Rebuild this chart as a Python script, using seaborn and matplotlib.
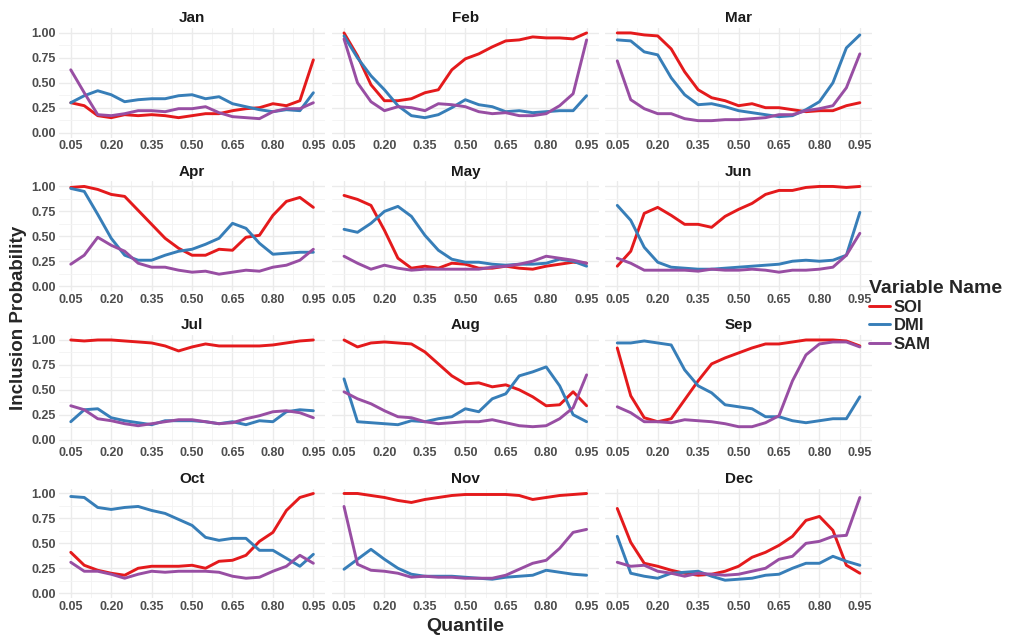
import numpy as np
import pandas as pd

import matplotlib
matplotlib.use("Agg")
import matplotlib.pyplot as plt
from matplotlib.lines import Line2D
import seaborn as sns

# ==================================================
# DATA
# ==================================================

QUANTILES = [round(0.05 * i, 2) for i in range(1, 20)]

MONTHS = ["Jan", "Feb", "Mar", "Apr", "May", "Jun",
          "Jul", "Aug", "Sep", "Oct", "Nov", "Dec"]

VARIABLES = ["SOI", "DMI", "SAM"]

SOI = {
    "Jan": [0.30, 0.27, 0.17, 0.15, 0.18, 0.17, 0.18, 0.17, 0.15, 0.17, 0.19, 0.19, 0.22, 0.24, 0.25, 0.29, 0.27, 0.32, 0.73],
    "Feb": [1.00, 0.77, 0.48, 0.32, 0.32, 0.34, 0.40, 0.43, 0.63, 0.74, 0.79, 0.86, 0.92, 0.93, 0.96, 0.95, 0.95, 0.94, 1.00],
    "Mar": [1.00, 1.00, 0.98, 0.97, 0.84, 0.61, 0.43, 0.35, 0.32, 0.27, 0.29, 0.25, 0.25, 0.23, 0.21, 0.22, 0.22, 0.27, 0.30],
    "Apr": [0.99, 1.00, 0.97, 0.92, 0.90, 0.76, 0.62, 0.48, 0.38, 0.31, 0.31, 0.37, 0.36, 0.49, 0.51, 0.71, 0.85, 0.89, 0.79],
    "May": [0.91, 0.87, 0.81, 0.56, 0.28, 0.18, 0.20, 0.18, 0.23, 0.22, 0.18, 0.18, 0.20, 0.18, 0.17, 0.20, 0.22, 0.24, 0.23],
    "Jun": [0.20, 0.35, 0.73, 0.79, 0.71, 0.62, 0.62, 0.59, 0.70, 0.77, 0.83, 0.92, 0.96, 0.96, 0.99, 1.00, 1.00, 0.99, 1.00],
    "Jul": [1.00, 0.99, 1.00, 1.00, 0.99, 0.98, 0.97, 0.94, 0.89, 0.93, 0.96, 0.94, 0.94, 0.94, 0.94, 0.95, 0.97, 0.99, 1.00],
    "Aug": [1.00, 0.93, 0.97, 0.98, 0.97, 0.96, 0.88, 0.76, 0.64, 0.56, 0.57, 0.53, 0.55, 0.50, 0.43, 0.34, 0.35, 0.48, 0.34],
    "Sep": [0.92, 0.44, 0.22, 0.18, 0.21, 0.40, 0.59, 0.76, 0.82, 0.87, 0.92, 0.96, 0.96, 0.98, 1.00, 1.00, 1.00, 0.99, 0.94],
    "Oct": [0.41, 0.28, 0.23, 0.20, 0.18, 0.25, 0.27, 0.27, 0.27, 0.28, 0.25, 0.32, 0.33, 0.38, 0.52, 0.61, 0.83, 0.96, 1.00],
    "Nov": [1.00, 1.00, 0.98, 0.96, 0.93, 0.91, 0.94, 0.96, 0.98, 0.99, 0.99, 0.99, 0.99, 0.98, 0.94, 0.96, 0.98, 0.99, 1.00],
    "Dec": [0.85, 0.51, 0.30, 0.27, 0.23, 0.20, 0.18, 0.19, 0.22, 0.27, 0.36, 0.41, 0.48, 0.57, 0.73, 0.77, 0.63, 0.28, 0.20],
}

DMI = {
    "Jan": [0.30, 0.37, 0.42, 0.38, 0.31, 0.33, 0.34, 0.34, 0.37, 0.38, 0.34, 0.36, 0.29, 0.26, 0.23, 0.21, 0.23, 0.22, 0.40],
    "Feb": [0.97, 0.75, 0.57, 0.43, 0.27, 0.17, 0.15, 0.18, 0.25, 0.33, 0.28, 0.26, 0.21, 0.22, 0.20, 0.21, 0.22, 0.22, 0.37],
    "Mar": [0.93, 0.92, 0.81, 0.78, 0.55, 0.38, 0.28, 0.29, 0.26, 0.22, 0.20, 0.18, 0.16, 0.17, 0.23, 0.31, 0.50, 0.85, 0.98],
    "Apr": [0.98, 0.95, 0.72, 0.48, 0.31, 0.26, 0.26, 0.31, 0.35, 0.37, 0.42, 0.48, 0.63, 0.58, 0.43, 0.32, 0.33, 0.34, 0.34],
    "May": [0.57, 0.54, 0.63, 0.75, 0.80, 0.70, 0.51, 0.36, 0.27, 0.24, 0.24, 0.22, 0.21, 0.22, 0.22, 0.23, 0.27, 0.25, 0.20],
    "Jun": [0.81, 0.66, 0.39, 0.24, 0.19, 0.18, 0.17, 0.17, 0.18, 0.19, 0.20, 0.21, 0.22, 0.25, 0.26, 0.25, 0.26, 0.31, 0.74],
    "Jul": [0.18, 0.30, 0.31, 0.22, 0.19, 0.17, 0.15, 0.19, 0.19, 0.19, 0.18, 0.16, 0.18, 0.15, 0.19, 0.18, 0.28, 0.30, 0.29],
    "Aug": [0.61, 0.18, 0.17, 0.16, 0.15, 0.19, 0.18, 0.21, 0.23, 0.31, 0.28, 0.41, 0.46, 0.64, 0.68, 0.73, 0.54, 0.25, 0.18],
    "Sep": [0.97, 0.97, 0.99, 0.97, 0.95, 0.70, 0.54, 0.47, 0.35, 0.33, 0.31, 0.23, 0.23, 0.19, 0.17, 0.19, 0.21, 0.21, 0.43],
    "Oct": [0.97, 0.96, 0.86, 0.84, 0.86, 0.87, 0.83, 0.80, 0.74, 0.68, 0.56, 0.53, 0.55, 0.55, 0.43, 0.43, 0.35, 0.27, 0.39],
    "Nov": [0.24, 0.34, 0.44, 0.34, 0.25, 0.19, 0.17, 0.17, 0.17, 0.16, 0.15, 0.14, 0.16, 0.17, 0.18, 0.23, 0.21, 0.19, 0.18],
    "Dec": [0.57, 0.20, 0.17, 0.15, 0.20, 0.21, 0.22, 0.17, 0.13, 0.14, 0.15, 0.18, 0.19, 0.25, 0.30, 0.30, 0.37, 0.32, 0.28],
}

SAM = {
    "Jan": [0.63, 0.40, 0.18, 0.17, 0.19, 0.22, 0.22, 0.21, 0.24, 0.24, 0.26, 0.20, 0.16, 0.15, 0.14, 0.21, 0.24, 0.24, 0.30],
    "Feb": [0.94, 0.50, 0.31, 0.22, 0.26, 0.25, 0.22, 0.29, 0.28, 0.26, 0.21, 0.19, 0.20, 0.17, 0.17, 0.19, 0.27, 0.39, 0.93],
    "Mar": [0.72, 0.33, 0.24, 0.19, 0.19, 0.14, 0.12, 0.12, 0.13, 0.13, 0.14, 0.15, 0.18, 0.18, 0.22, 0.24, 0.27, 0.45, 0.79],
    "Apr": [0.22, 0.31, 0.49, 0.41, 0.35, 0.23, 0.19, 0.19, 0.16, 0.14, 0.15, 0.12, 0.14, 0.16, 0.15, 0.19, 0.21, 0.26, 0.37],
    "May": [0.30, 0.23, 0.17, 0.21, 0.18, 0.16, 0.17, 0.17, 0.17, 0.17, 0.17, 0.19, 0.20, 0.22, 0.25, 0.30, 0.28, 0.26, 0.23],
    "Jun": [0.28, 0.23, 0.16, 0.16, 0.16, 0.16, 0.15, 0.17, 0.16, 0.16, 0.17, 0.16, 0.14, 0.16, 0.16, 0.17, 0.19, 0.31, 0.53],
    "Jul": [0.34, 0.30, 0.21, 0.19, 0.16, 0.14, 0.16, 0.18, 0.20, 0.20, 0.18, 0.16, 0.17, 0.21, 0.24, 0.28, 0.29, 0.27, 0.22],
    "Aug": [0.48, 0.41, 0.36, 0.29, 0.23, 0.22, 0.18, 0.16, 0.17, 0.18, 0.18, 0.20, 0.17, 0.14, 0.13, 0.14, 0.21, 0.32, 0.65],
    "Sep": [0.33, 0.27, 0.18, 0.18, 0.17, 0.20, 0.19, 0.18, 0.16, 0.13, 0.13, 0.17, 0.24, 0.59, 0.85, 0.96, 0.98, 0.98, 0.93],
    "Oct": [0.31, 0.22, 0.22, 0.19, 0.15, 0.19, 0.22, 0.21, 0.22, 0.22, 0.22, 0.21, 0.17, 0.15, 0.16, 0.22, 0.27, 0.38, 0.30],
    "Nov": [0.87, 0.29, 0.23, 0.22, 0.20, 0.16, 0.17, 0.16, 0.16, 0.15, 0.15, 0.15, 0.18, 0.24, 0.30, 0.33, 0.45, 0.61, 0.64],
    "Dec": [0.31, 0.27, 0.28, 0.22, 0.20, 0.17, 0.20, 0.19, 0.18, 0.19, 0.22, 0.25, 0.34, 0.37, 0.50, 0.52, 0.57, 0.58, 0.96],
}

X_TICKS = [0.05, 0.20, 0.35, 0.50, 0.65, 0.80, 0.95]
Y_TICKS = [0.00, 0.25, 0.50, 0.75, 1.00]

COLORS = {"SOI": "#E41A1C", "DMI": "#377EB8", "SAM": "#984EA3"}

# ==================================================
# LONG TABLE
# ==================================================

rows = []
for var_name, table in zip(VARIABLES, [SOI, DMI, SAM]):
    for month in MONTHS:
        for q, p in zip(QUANTILES, table[month]):
            rows.append({"Month": month, "Quantile": q,
                         "Variable Name": var_name, "Probability": p})

df = pd.DataFrame(rows)

# ==================================================
# PLOT
# ==================================================

sns.set_theme(style="whitegrid")
plt.rcParams["font.family"] = ["Liberation Sans", "DejaVu Sans"]

g = sns.relplot(
    data=df,
    x="Quantile",
    y="Probability",
    hue="Variable Name",
    hue_order=VARIABLES,
    palette=COLORS,
    col="Month",
    col_order=MONTHS,
    col_wrap=3,
    kind="line",
    linewidth=2.1,
    legend=False,
    height=2,
    aspect=1.5,
    facet_kws={"sharex": True, "sharey": True},
)

fig = g.figure
fig.set_size_inches(10.11, 6.35)
fig.subplots_adjust(left=0.058, right=0.8625, top=0.956, bottom=0.058,
                    wspace=0.024, hspace=0.40)

minor_x = [0.125, 0.275, 0.425, 0.575, 0.725, 0.875]
minor_y = [0.125, 0.375, 0.625, 0.875]

for i, (month, ax) in enumerate(zip(MONTHS, g.axes.flat)):
    ax.set_xlim(0.005, 0.995)
    ax.set_ylim(-0.05, 1.05)
    ax.set_xticks(X_TICKS)
    ax.set_xticks(minor_x, minor=True)
    ax.set_yticks(Y_TICKS)
    ax.set_yticks(minor_y, minor=True)
    ax.set_xticklabels([f"{t:.2f}" for t in X_TICKS])
    ax.set_yticklabels([f"{t:.2f}" for t in Y_TICKS])
    ax.grid(which="major", color="#EBEBEB", linewidth=1.0)
    ax.grid(which="minor", color="#F3F3F3", linewidth=0.6)
    ax.set_axisbelow(True)
    for s in ax.spines.values():
        s.set_visible(False)
    ax.tick_params(axis="both", which="both", length=0, pad=2,
                   labelbottom=True, labelsize=9, labelcolor="#4D4D4D")
    for lab in ax.get_xticklabels() + ax.get_yticklabels():
        lab.set_fontweight("bold")
    if i % 3 != 0:
        ax.tick_params(labelleft=False)
    ax.set_title(month, fontsize=11, fontweight="bold", color="#1A1A1A", pad=4)
    ax.set_xlabel("")
    ax.set_ylabel("")

fig.text(0.4605, 0.007, "Quantile", ha="center", va="baseline",
         fontsize=14, fontweight="bold")
fig.text(0.010, 0.5, "Inclusion Probability", ha="left", va="center",
         rotation=90, fontsize=13.5, fontweight="bold")

handles = [Line2D([0], [0], color=COLORS[v], linewidth=2.1) for v in VARIABLES]
leg = fig.legend(
    handles, VARIABLES,
    title="Variable Name",
    loc="center left",
    bbox_to_anchor=(0.86, 0.503),
    borderaxespad=0,
    borderpad=0,
    frameon=False,
    handlelength=1.25,
    handletextpad=0.2,
    labelspacing=0.2,
    prop={"weight": "bold", "size": 12},
)
leg.get_title().set_fontweight("bold")
leg.get_title().set_fontsize(14)
leg._legend_box.align = "left"

fig.savefig("out.png", dpi=100)
